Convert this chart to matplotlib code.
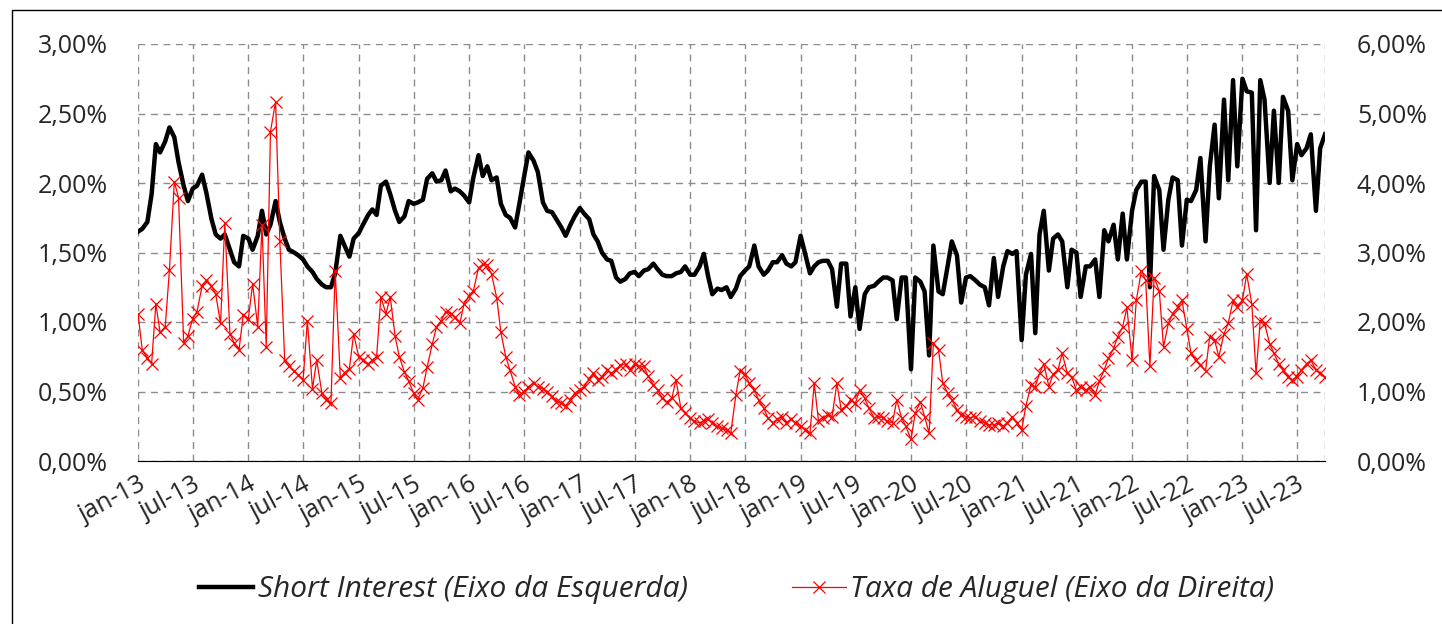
# short interest x taxa de aluguel - semanal (amostrado 2x por mes)

import pandas as pd
import matplotlib
matplotlib.use("Agg")
import matplotlib.pyplot as plt
import matplotlib.dates as mdates
from matplotlib.ticker import FuncFormatter, MultipleLocator
from matplotlib.patches import Rectangle

# % do free float (eixo esquerdo)
short_interest = (
    [1.65, 1.67, 1.72, 1.92, 2.28, 2.22, 2.30, 2.40, 2.33, 2.15, 1.98, 1.87,
     1.96, 1.98, 2.06, 1.93, 1.74, 1.63, 1.60, 1.63, 1.52, 1.43, 1.40, 1.62]  # 2013
    + [1.60, 1.52, 1.62, 1.80, 1.63, 1.70, 1.87, 1.72, 1.60, 1.52, 1.50, 1.48,
       1.45, 1.40, 1.36, 1.31, 1.27, 1.25, 1.25, 1.35, 1.62, 1.55, 1.47, 1.60]  # 2014
    + [1.64, 1.70, 1.77, 1.81, 1.77, 1.98, 2.01, 1.92, 1.80, 1.72, 1.76, 1.87,
       1.85, 1.86, 1.88, 2.03, 2.07, 2.01, 2.02, 2.09, 1.94, 1.96, 1.94, 1.91]  # 2015
    + [1.86, 2.04, 2.20, 2.05, 2.12, 2.02, 2.04, 1.85, 1.77, 1.75, 1.68, 1.85,
       2.05, 2.22, 2.16, 2.08, 1.86, 1.80, 1.79, 1.74, 1.68, 1.62, 1.70, 1.76]  # 2016
    + [1.82, 1.78, 1.74, 1.63, 1.58, 1.50, 1.45, 1.44, 1.32, 1.29, 1.31, 1.35,
       1.36, 1.33, 1.37, 1.38, 1.42, 1.38, 1.34, 1.33, 1.33, 1.35, 1.36, 1.40]  # 2017
    + [1.34, 1.34, 1.40, 1.49, 1.33, 1.20, 1.24, 1.23, 1.25, 1.18, 1.24, 1.33,
       1.37, 1.40, 1.55, 1.40, 1.34, 1.37, 1.43, 1.43, 1.48, 1.42, 1.40, 1.43]  # 2018
    + [1.62, 1.50, 1.35, 1.40, 1.43, 1.44, 1.44, 1.38, 1.11, 1.42, 1.42, 1.04,
       1.25, 0.95, 1.20, 1.25, 1.26, 1.29, 1.32, 1.32, 1.30, 1.02, 1.32, 1.32]  # 2019
    + [0.66, 1.32, 1.29, 1.22, 0.76, 1.55, 1.22, 1.20, 1.40, 1.58, 1.48, 1.14,
       1.32, 1.33, 1.30, 1.27, 1.25, 1.12, 1.46, 1.18, 1.40, 1.51, 1.49, 1.51]  # 2020
    + [0.87, 1.34, 1.49, 0.92, 1.63, 1.80, 1.37, 1.60, 1.63, 1.58, 1.25, 1.52,
       1.50, 1.18, 1.40, 1.40, 1.45, 1.18, 1.66, 1.58, 1.70, 1.45, 1.78, 1.45]  # 2021
    + [1.80, 1.95, 2.01, 2.01, 1.25, 2.05, 1.95, 1.52, 1.88, 2.04, 2.02, 1.55,
       1.88, 1.87, 1.95, 2.18, 1.58, 2.12, 2.42, 1.89, 2.60, 2.02, 2.74, 2.12]  # 2022
    + [2.75, 2.66, 2.65, 1.66, 2.74, 2.60, 2.00, 2.52, 2.00, 2.62, 2.52, 2.02,
       2.28, 2.20, 2.25, 2.35, 1.80, 2.25, 2.35]  # 2023
)

# taxa de aluguel % a.a. (eixo direito)
taxa_aluguel = (
    [2.12, 1.60, 1.48, 1.40, 2.26, 1.85, 1.93, 2.75, 4.02, 3.79, 1.70, 1.80,
     2.05, 2.15, 2.52, 2.60, 2.52, 2.40, 1.98, 3.43, 1.83, 1.70, 1.60, 2.10]  # 2013
    + [2.05, 2.55, 1.93, 3.40, 1.64, 4.74, 5.17, 3.17, 1.45, 1.36, 1.30, 1.24,
       1.17, 2.02, 1.04, 1.45, 0.98, 0.88, 0.83, 2.74, 1.20, 1.27, 1.33, 1.83]  # 2014
    + [1.50, 1.45, 1.40, 1.45, 1.50, 2.36, 2.12, 2.36, 1.80, 1.50, 1.28, 1.15,
       0.98, 0.88, 1.05, 1.35, 1.68, 1.93, 2.02, 2.15, 2.12, 2.07, 1.98, 2.26]  # 2015
    + [2.38, 2.45, 2.78, 2.83, 2.82, 2.69, 2.35, 1.85, 1.50, 1.31, 1.07, 0.95,
       1.00, 1.07, 1.12, 1.07, 1.04, 1.00, 0.93, 0.85, 0.83, 0.79, 0.88, 0.98]  # 2016
    + [1.02, 1.07, 1.18, 1.26, 1.17, 1.21, 1.31, 1.26, 1.31, 1.38, 1.40, 1.31,
       1.40, 1.36, 1.36, 1.22, 1.10, 1.02, 0.90, 0.85, 0.90, 1.17, 0.76, 0.69]  # 2017
    + [0.62, 0.57, 0.55, 0.58, 0.60, 0.55, 0.50, 0.47, 0.45, 0.40, 0.95, 1.30,
       1.25, 1.12, 1.02, 0.88, 0.76, 0.62, 0.55, 0.60, 0.64, 0.55, 0.60, 0.55]  # 2018
    + [0.50, 0.45, 0.40, 1.12, 0.58, 0.62, 0.66, 0.64, 1.12, 0.74, 0.79, 0.88,
       0.83, 1.02, 0.90, 0.76, 0.62, 0.64, 0.62, 0.57, 0.55, 0.88, 0.62, 0.50]  # 2019
    + [0.31, 0.69, 0.85, 0.64, 0.40, 1.70, 1.60, 1.12, 0.98, 0.88, 0.74, 0.66,
       0.64, 0.62, 0.64, 0.57, 0.55, 0.52, 0.52, 0.55, 0.50, 0.55, 0.64, 0.55]  # 2020
    + [0.45, 0.79, 1.10, 1.07, 1.26, 1.40, 1.07, 1.25, 1.31, 1.55, 1.26, 1.21,
       1.02, 1.07, 1.02, 1.07, 0.95, 1.15, 1.31, 1.48, 1.62, 1.79, 1.93, 2.21]  # 2021
    + [1.45, 2.31, 2.74, 2.60, 1.36, 2.64, 2.45, 1.64, 1.98, 2.12, 2.21, 2.31,
       1.90, 1.55, 1.45, 1.38, 1.30, 1.79, 1.74, 1.50, 1.83, 1.98, 2.31, 2.21]  # 2022
    + [2.31, 2.69, 2.26, 1.26, 2.02, 1.98, 1.69, 1.55, 1.40, 1.31, 1.21, 1.17,
       1.21, 1.31, 1.40, 1.45, 1.31, 1.26, 1.21]  # 2023
)

datas = pd.date_range("2013-01-01", periods=len(short_interest), freq="SMS")

font = ["Open Sans", "DejaVu Sans"]
plt.rcParams["font.family"] = font
txt = "#262626"
grid_kw = dict(color="#8c8c8c", linestyle=(0, (5, 4)), linewidth=1)

fig = plt.figure(figsize=(14.42, 6.24), dpi=100)
ax = fig.add_axes([138 / 1442, 1 - 461 / 624, (1325 - 138) / 1442, (461 - 44) / 624])
ax2 = ax.twinx()

l1, = ax.plot(datas, short_interest, color="black", linewidth=3.2,
              label="Short Interest (Eixo da Esquerda)")
l2, = ax2.plot(datas, taxa_aluguel, color="#ff0000", linewidth=0.9,
               marker="x", markersize=9, markeredgewidth=0.9,
               label="Taxa de Aluguel (Eixo da Direita)")

pct = FuncFormatter(lambda v, p: f"{v:.2f}%".replace(".", ","))
ax.set_ylim(0, 3)
ax2.set_ylim(0, 6)
ax.yaxis.set_major_locator(MultipleLocator(0.5))
ax2.yaxis.set_major_locator(MultipleLocator(1))
ax.yaxis.set_major_formatter(pct)
ax2.yaxis.set_major_formatter(pct)

ax.set_xlim(datas[0], datas[-1])
ax.xaxis.set_major_locator(mdates.MonthLocator(bymonth=[1, 7]))
meses = {1: "jan", 7: "jul"}
ax.xaxis.set_major_formatter(FuncFormatter(
    lambda v, p: f"{meses[mdates.num2date(v).month]}-{mdates.num2date(v).year % 100:02d}"))

ax.grid(True, **grid_kw)
for a in (ax, ax2):
    for s in ("top", "left", "right"):
        a.spines[s].set_visible(False)
ax.spines["bottom"].set_color("#8c8c8c")
ax.axvline(datas[-1], **grid_kw)

ax.tick_params(axis="y", length=0, pad=22, labelsize=18, labelcolor=txt)
ax2.tick_params(axis="y", length=0, pad=23, labelsize=18, labelcolor=txt)
ax.tick_params(axis="x", length=0, pad=8, labelsize=18, labelcolor=txt)
for lab in ax.get_xticklabels():
    lab.set_rotation(28)
    lab.set_ha("right")
    lab.set_rotation_mode("anchor")

fig.legend(handles=[l1, l2], loc="center", bbox_to_anchor=(0.511, 0.055), ncol=2,
           frameon=False, columnspacing=3.5, handlelength=1.8, handletextpad=0.15,
           prop=dict(family=font, style="italic", size=21.5))
for t in fig.legends[0].get_texts():
    t.set_color(txt)

# moldura da imagem
fig.patches.append(Rectangle((12 / 1442, -0.1), 1.2, 1.1 - 10 / 624,
                             transform=fig.transFigure, fill=False,
                             edgecolor="black", linewidth=1))

fig.savefig("out.png", dpi=100)
